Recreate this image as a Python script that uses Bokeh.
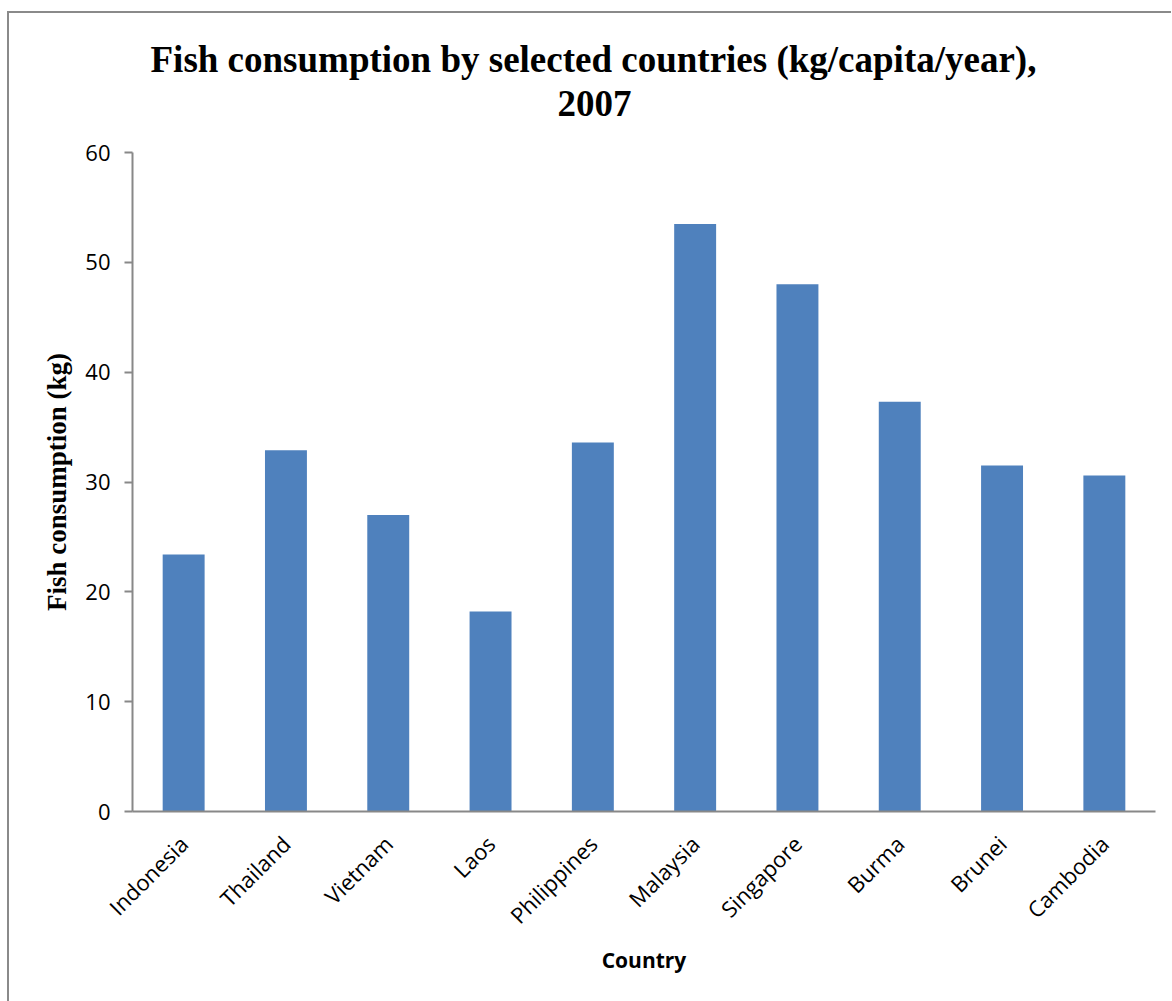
from bokeh.plotting import figure
from bokeh.models import ColumnDataSource, Title, Range1d, FixedTicker
from bokeh.embed import file_html
from bokeh.resources import INLINE
import math

countries = ["Indonesia", "Thailand", "Vietnam", "Laos", "Philippines",
             "Malaysia", "Singapore", "Burma", "Brunei", "Cambodia"]
consumption = [23.4, 32.9, 27.0, 18.2, 33.6, 53.5, 48.0, 37.3, 31.5, 30.6]
y_ticks = [0, 10, 20, 30, 40, 50, 60]

title_line1 = "Fish consumption by selected countries (kg/capita/year),"
title_line2 = "2007"

src = ColumnDataSource(dict(country=countries, value=consumption))

AX = "#888888"

p = figure(x_range=countries, y_range=Range1d(0, 60),
           width=1164, height=990, output_backend="svg", toolbar_location=None,
           min_border_left=123, min_border_right=18, min_border_top=139,
           min_border_bottom=192)
p.styles = {"margin-left": "7px", "margin-top": "11px",
            "border-left": "2px solid #8a8a8a", "border-top": "2px solid #8a8a8a"}

p.vbar(x="country", top="value", width=0.41, source=src,
       fill_color="#4F81BD", line_color=None)

p.outline_line_color = None
p.xgrid.grid_line_color = None
p.ygrid.grid_line_color = None
p.background_fill_color = "white"
p.border_fill_color = "white"

# y axis
ya = p.yaxis[0]
ya.ticker = FixedTicker(ticks=y_ticks)
ya.axis_line_color = AX
ya.axis_line_width = 2
ya.major_tick_line_color = AX
ya.major_tick_line_width = 2
ya.major_tick_out = 8
ya.major_tick_in = 0
ya.minor_tick_line_color = None
ya.major_label_text_font = "Open Sans"
ya.major_label_text_font_size = "22px"
ya.major_label_text_color = "black"
ya.major_label_standoff = 14
ya.axis_label = "Fish consumption (kg)"
ya.axis_label_text_font = "Liberation Serif"
ya.axis_label_text_font_style = "bold"
ya.axis_label_text_font_size = "27px"
ya.axis_label_text_color = "black"
ya.axis_label_standoff = 10

# x axis
xa = p.xaxis[0]
xa.axis_line_color = AX
xa.axis_line_width = 2
xa.major_tick_line_color = None
xa.minor_tick_line_color = None
xa.major_label_orientation = math.pi / 4
xa.major_label_text_font = "Open Sans"
xa.major_label_text_font_size = "22px"
xa.major_label_text_color = "black"
xa.major_label_standoff = 22
xa.axis_label = "Country"
xa.axis_label_text_font = "Open Sans"
xa.axis_label_text_font_style = "bold"
xa.axis_label_text_font_size = "21px"
xa.axis_label_text_color = "black"
xa.axis_label_standoff = 3

# spacer between the frame and the title block
p.add_layout(Title(text=" ", align="center", text_font="Liberation Serif",
                   text_font_style="bold", text_font_size="26px",
                   text_color="black", standoff=1), "above")
p.add_layout(Title(text=title_line2, align="left", text_font="Liberation Serif",
                   text_font_style="bold", text_font_size="37px",
                   text_color="black", standoff=9, offset=425), "above")
p.add_layout(Title(text=title_line1, align="left", text_font="Liberation Serif",
                   text_font_style="bold", text_font_size="37px",
                   text_color="black", standoff=9, offset=18), "above")

open("out.html", "w").write(file_html(p, INLINE))
